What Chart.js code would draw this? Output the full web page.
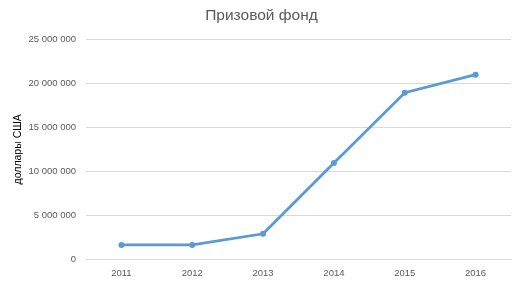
<!DOCTYPE html>
<html>
<head>
<meta charset="utf-8">
<script src="https://cdn.jsdelivr.net/npm/chart.js@4"></script>
<style>
  html, body { margin: 0; padding: 0; background: #fff; }
  #wrap { width: 522px; height: 281px; }
</style>
</head>
<body>
<div id="wrap"><canvas id="prizeChart" width="522" height="281"></canvas></div>
<script>
// Data
const years = ['2011', '2012', '2013', '2014', '2015', '2016'];
const prizePool = [1600000, 1600000, 2870000, 10930000, 18950000, 21000000];
const yTicks = [0, 5000000, 10000000, 15000000, 20000000, 25000000];

const textColor = '#595959';
const fontFamily = "'Liberation Sans', 'DejaVu Sans', sans-serif";

function spaced(v) {
    return String(v).replace(/\B(?=(\d{3})+(?!\d))/g, ' ');
}

const ctx = document.getElementById('prizeChart').getContext('2d');
new Chart(ctx, {
    type: 'line',
    data: {
        labels: years,
        datasets: [{
            label: 'Призовой фонд',
            data: prizePool,
            borderColor: '#5b9bd5',
            backgroundColor: '#5b9bd5',
            borderWidth: 2.75,
            pointRadius: 3,
            pointBorderWidth: 0,
            pointHoverRadius: 3,
            tension: 0
        }]
    },
    options: {
        responsive: false,
        animation: false,
        layout: { padding: { left: 12, right: 11, top: 4, bottom: 0 } },
        plugins: {
            legend: { display: false },
            tooltip: { enabled: false },
            title: {
                display: true,
                text: 'Призовой фонд',
                color: textColor,
                font: { family: fontFamily, size: 15.5, weight: 'normal' },
                padding: { top: 2, bottom: 15 }
            }
        },
        scales: {
            x: {
                offset: true,
                grid: { display: false, drawTicks: false },
                border: { color: '#d9d9d9' },
                ticks: {
                    color: textColor,
                    font: { family: fontFamily, size: 9.5 },
                    padding: 9
                },
                afterFit: axis => { axis.height = 22; }
            },
            y: {
                min: 0,
                max: 25000000,
                afterBuildTicks: axis => { axis.ticks = yTicks.map(v => ({ value: v })); },
                grid: { color: '#d9d9d9', drawTicks: false },
                border: { display: false },
                ticks: {
                    color: textColor,
                    font: { family: fontFamily, size: 9.5 },
                    padding: 10,
                    callback: value => spaced(value)
                },
                title: {
                    display: true,
                    text: 'доллары США',
                    color: '#000',
                    font: { family: fontFamily, size: 10.5 },
                    padding: { top: 0, bottom: 0 }
                },
                afterFit: axis => { axis.width = 74; }
            }
        }
    }
});
</script>
</body>
</html>
